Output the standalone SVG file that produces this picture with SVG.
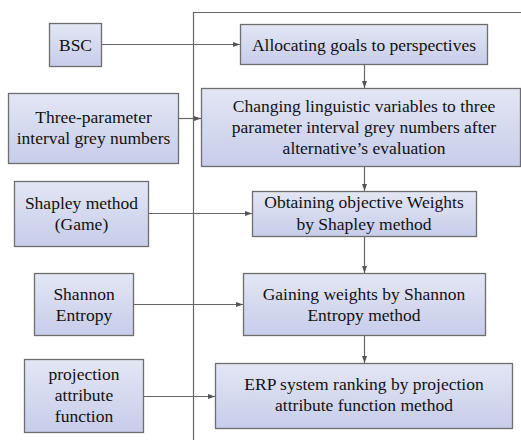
<svg xmlns="http://www.w3.org/2000/svg" width="521" height="440" viewBox="0 0 521 440">
<defs>
<linearGradient id="g" x1="0" y1="0" x2="0" y2="1">
<stop offset="0" stop-color="#e3e6f4"/>
<stop offset="1" stop-color="#c7cdea"/>
</linearGradient>
<marker id="a" markerWidth="7" markerHeight="6" refX="7" refY="3" orient="auto" markerUnits="userSpaceOnUse">
<path d="M0,0.5 L7,3 L0,5.5 Z" fill="#555"/>
</marker>
</defs>
<g id="connectors" fill="none" stroke="#666" stroke-width="1.2">
<path d="M193.5,440 V12.5 H521"/>
<path d="M101,44.5 H240" marker-end="url(#a)"/>
<path d="M178,118.5 H201" marker-end="url(#a)"/>
<path d="M148,213.5 H252" marker-end="url(#a)"/>
<path d="M133,304.5 H243" marker-end="url(#a)"/>
<path d="M143,396.5 H215" marker-end="url(#a)"/>
<path d="M364.5,64 V88" marker-end="url(#a)"/>
<path d="M364.5,166 V191" marker-end="url(#a)"/>
<path d="M364.5,236 V273" marker-end="url(#a)"/>
<path d="M364.5,335 V363" marker-end="url(#a)"/>
</g>
<g id="bsc">
<rect x="49.5" y="23.5" width="52" height="43" fill="url(#g)" stroke="#6e6e6e" stroke-width="1.3"/>
<text x="75.5" y="51" font-family="Liberation Serif" font-size="17.5" text-anchor="middle" fill="#111">BSC</text>
</g>
<g id="three-param">
<rect x="8.5" y="93.5" width="170" height="70" fill="url(#g)" stroke="#6e6e6e" stroke-width="1.3"/>
<text x="93.5" y="123" font-family="Liberation Serif" font-size="17.5" text-anchor="middle" fill="#111">Three-parameter</text>
<text x="93.5" y="144" font-family="Liberation Serif" font-size="17.5" text-anchor="middle" fill="#111">interval grey numbers</text>
</g>
<g id="shapley">
<rect x="14.5" y="181.5" width="134" height="65" fill="url(#g)" stroke="#6e6e6e" stroke-width="1.3"/>
<text x="81.5" y="208.5" font-family="Liberation Serif" font-size="17.5" text-anchor="middle" fill="#111">Shapley method</text>
<text x="81.5" y="229.5" font-family="Liberation Serif" font-size="17.5" text-anchor="middle" fill="#111">(Game)</text>
</g>
<g id="shannon">
<rect x="34.5" y="273.5" width="99" height="62" fill="url(#g)" stroke="#6e6e6e" stroke-width="1.3"/>
<text x="84" y="299.5" font-family="Liberation Serif" font-size="17.5" text-anchor="middle" fill="#111">Shannon</text>
<text x="84" y="320.5" font-family="Liberation Serif" font-size="17.5" text-anchor="middle" fill="#111">Entropy</text>
</g>
<g id="projection">
<rect x="24.5" y="359.5" width="119" height="73" fill="url(#g)" stroke="#6e6e6e" stroke-width="1.3"/>
<text x="84" y="380" font-family="Liberation Serif" font-size="17.5" text-anchor="middle" fill="#111">projection</text>
<text x="84" y="401" font-family="Liberation Serif" font-size="17.5" text-anchor="middle" fill="#111">attribute</text>
<text x="84" y="422" font-family="Liberation Serif" font-size="17.5" text-anchor="middle" fill="#111">function</text>
</g>
<g id="allocating">
<rect x="240.5" y="24.5" width="247" height="40" fill="url(#g)" stroke="#6e6e6e" stroke-width="1.3"/>
<text x="364" y="50.5" font-family="Liberation Serif" font-size="17.5" text-anchor="middle" fill="#111">Allocating goals to perspectives</text>
</g>
<g id="changing">
<rect x="201.5" y="88.5" width="319" height="78" fill="url(#g)" stroke="#6e6e6e" stroke-width="1.3"/>
<text x="364" y="112" font-family="Liberation Serif" font-size="17.5" text-anchor="middle" fill="#111">Changing linguistic variables to three</text>
<text x="364" y="133" font-family="Liberation Serif" font-size="17.5" text-anchor="middle" fill="#111">parameter interval grey numbers after</text>
<text x="364" y="154" font-family="Liberation Serif" font-size="17.5" text-anchor="middle" fill="#111">alternative’s evaluation</text>
</g>
<g id="obtaining">
<rect x="252.5" y="191.5" width="224" height="45" fill="url(#g)" stroke="#6e6e6e" stroke-width="1.3"/>
<text x="364" y="208" font-family="Liberation Serif" font-size="17.5" text-anchor="middle" fill="#111">Obtaining objective Weights</text>
<text x="364" y="230" font-family="Liberation Serif" font-size="17.5" text-anchor="middle" fill="#111">by Shapley method</text>
</g>
<g id="gaining">
<rect x="243.5" y="273.5" width="242" height="62" fill="url(#g)" stroke="#6e6e6e" stroke-width="1.3"/>
<text x="364" y="299.5" font-family="Liberation Serif" font-size="17.5" text-anchor="middle" fill="#111">Gaining weights by Shannon</text>
<text x="364" y="320.5" font-family="Liberation Serif" font-size="17.5" text-anchor="middle" fill="#111">Entropy method</text>
</g>
<g id="erp">
<rect x="215.5" y="363.5" width="297" height="65" fill="url(#g)" stroke="#6e6e6e" stroke-width="1.3"/>
<text x="364" y="390" font-family="Liberation Serif" font-size="17.5" text-anchor="middle" fill="#111">ERP system ranking by projection</text>
<text x="364" y="411" font-family="Liberation Serif" font-size="17.5" text-anchor="middle" fill="#111">attribute function method</text>
</g>
</svg>
